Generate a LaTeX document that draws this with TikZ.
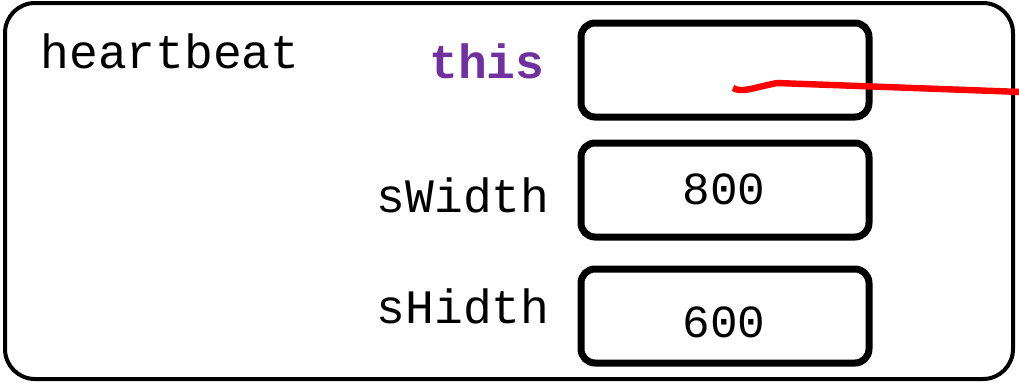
\documentclass[tikz,border=0pt]{standalone}
\usepackage{fontspec}
\setmonofont{Liberation Mono}
\usepackage{tikz}
\usetikzlibrary{positioning}
\usepackage{xcolor}
\definecolor{thispurple}{RGB}{112,48,160}

\begin{document}
\begin{tikzpicture}[
        x=0.5pt, y=-0.5pt,
        frame/.style={draw, line width=2pt, rounded corners=15pt},
        cell/.style={rectangle, draw, line width=3.5pt, rounded corners=7pt, minimum width=144pt, minimum height=47pt, inner sep=0pt},
        var/.style={font=\ttfamily\fontsize{24}{28}\selectfont, inner sep=0pt},
        val/.style={font=\ttfamily\fontsize{23}{28}\selectfont, inner sep=0pt, anchor=base},
        ptrline/.style={draw=red, line width=3.2pt, line join=round}
    ]
    \useasboundingbox (0,0) rectangle (1019,382);
    % the frame of heartbeat
    \draw [frame] (5,3) rectangle (1013,379);
    \node [var, anchor=base west] (fname) at (40,68) {heartbeat};
    % variable cells
    \node [cell] (thisbox) at (725,70) {};
    \node [cell] (wbox) at (725,190) {};
    \node [cell] (hbox) at (725,316) {};
    \node [var, anchor=base east, text=thispurple, font=\ttfamily\bfseries\fontsize{24}{28}\selectfont] (thislbl) at (545,78) {this};
    \node [var, anchor=base east] (wlbl) at (550,212) {sWidth};
    \node [var, anchor=base east] (hlbl) at (550,323) {sHidth};
    \node [val] (wval) at (724,204) {800};
    \node [val] (hval) at (724,337) {600};
    % reference out of the frame
    \coordinate (ptr) at (733,88);
    \coordinate (off) at (1022,92);
    \draw [ptrline] (ptr) .. controls (742,93) and (752,88) .. (777,83) -- (off);
\end{tikzpicture}
\end{document}
